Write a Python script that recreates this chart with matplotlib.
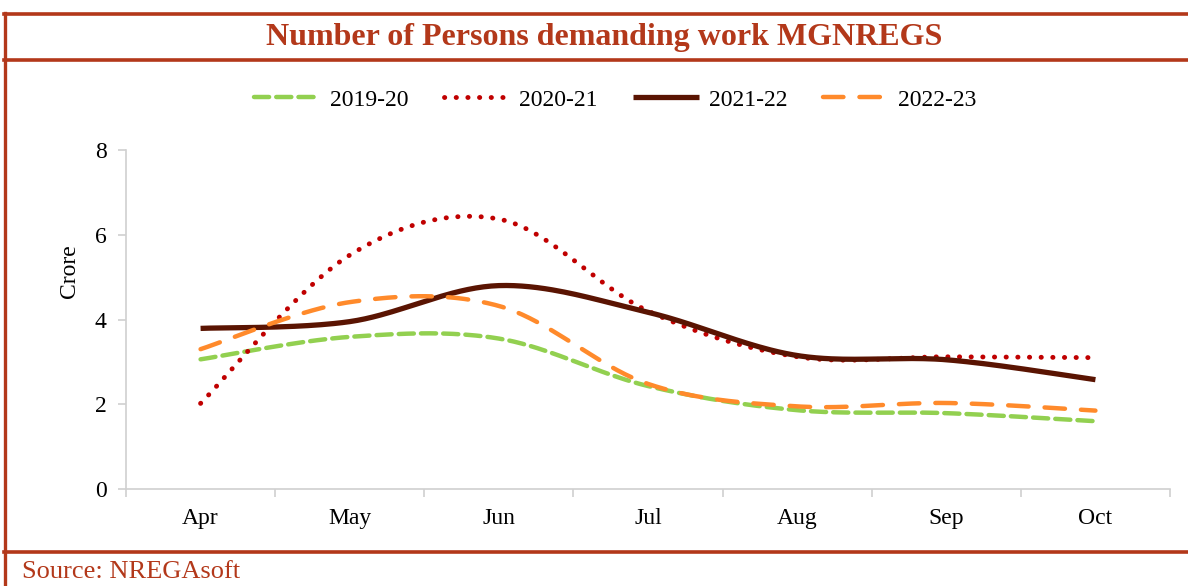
import numpy as np
import matplotlib
matplotlib.use("Agg")
import matplotlib.pyplot as plt
from matplotlib.lines import Line2D

months = ["Apr", "May", "Jun", "Jul", "Aug", "Sep", "Oct"]
s2019 = [3.06, 3.59, 3.55, 2.43, 1.86, 1.79, 1.60]
s2020 = [2.02, 5.52, 6.37, 4.20, 3.12, 3.12, 3.10]
s2021 = [3.79, 3.95, 4.80, 4.17, 3.15, 3.05, 2.58]
s2022 = [3.30, 4.41, 4.32, 2.48, 1.95, 2.03, 1.85]
labels = ["2019-20", "2020-21", "2021-22", "2022-23"]

plt.rcParams['font.family'] = ['Liberation Serif', 'DejaVu Serif']
RED = '#B3381A'


def smooth(y, n=40):
    y = np.asarray(y, float)
    x = np.arange(len(y), dtype=float)
    xs, ys = [], []
    for i in range(len(y) - 1):
        p0 = np.array([x[i], y[i]])
        p3 = np.array([x[i + 1], y[i + 1]])
        pm = np.array([x[i - 1], y[i - 1]]) if i > 0 else p0
        pp = np.array([x[i + 2], y[i + 2]]) if i + 2 < len(y) else p3
        c1 = p0 + (p3 - pm) / 6.0
        c2 = p3 - (pp - p0) / 6.0
        t = np.linspace(0, 1, n)[:, None]
        b = ((1 - t) ** 3) * p0 + 3 * ((1 - t) ** 2) * t * c1 + 3 * (1 - t) * t ** 2 * c2 + t ** 3 * p3
        if i > 0:
            b = b[1:]
        xs.append(b[:, 0]); ys.append(b[:, 1])
    return np.concatenate(xs), np.concatenate(ys)


fig = plt.figure(figsize=(11.88, 5.86), dpi=100)
ax = fig.add_axes([126 / 1188, (586 - 489) / 586, (1170 - 126) / 1188, (489 - 150) / 586])

styles = [
    dict(color='#92D050', lw=3.2, dashes=(3.4, 1.6), dash_capstyle='round'),
    dict(color='#C00000', lw=3.5, dashes=(0.05, 2.35), dash_capstyle='round'),
    dict(color='#5A1402', lw=3.8, linestyle='-', solid_capstyle='butt'),
    dict(color='#FF8A2B', lw=3.2, dashes=(4.6, 3.6), dash_capstyle='round'),
]
series = [s2019, s2020, s2021, s2022]
for s, st, lab in zip(series, styles, labels):
    xs, ys = smooth(s)
    ax.plot(xs, ys, label=lab, **st)

ax.set_xlim(-0.5, len(months) - 0.5)
ax.set_ylim(0, 8)
ax.set_yticks([0, 2, 4, 6, 8])
ax.set_xticks(range(len(months)))
ax.set_xticklabels(months, fontsize=17)
ax.set_xticks(np.arange(-0.5, len(months), 1.0), minor=True)
ax.tick_params(axis='x', which='major', length=0, pad=14)
ax.tick_params(axis='x', which='minor', length=6, color='#D0D0D0', width=1.2)
ax.tick_params(axis='y', labelsize=17, length=6, color='#D0D0D0', width=1.2, pad=8)
for sp in ['top', 'right']:
    ax.spines[sp].set_visible(False)
for sp in ['left', 'bottom']:
    ax.spines[sp].set_color('#D0D0D0')
    ax.spines[sp].set_linewidth(1.2)
ax.set_ylabel('Crore', fontsize=17)
ax.yaxis.set_label_coords(-0.044, 0.643, transform=ax.transAxes)

leg = fig.legend(loc='center', bbox_to_anchor=(0.518, 1 - 100 / 586), ncol=4, frameon=False,
                 fontsize=17, handlelength=2.8, columnspacing=1.5, handletextpad=0.4)

# frame lines
def hline(y, x0=4 / 1188, x1=1.0):
    fig.add_artist(Line2D([x0, x1], [1 - y / 586, 1 - y / 586], color=RED, lw=2.6,
                          transform=fig.transFigure))

hline(14)
hline(60)
hline(552)
fig.add_artist(Line2D([5 / 1188, 5 / 1188], [1 - 13 / 586, 0], color=RED, lw=2.4,
                      transform=fig.transFigure))

fig.text(604 / 1188, 1 - 38 / 586, 'Number of Persons demanding work MGNREGS', ha='center', va='center',
         fontsize=23, fontweight='bold', color=RED)
fig.text(22 / 1188, 1 - 572 / 586, 'Source: NREGAsoft', ha='left', va='center', fontsize=19, color=RED)

fig.savefig('out.png', dpi=100)
